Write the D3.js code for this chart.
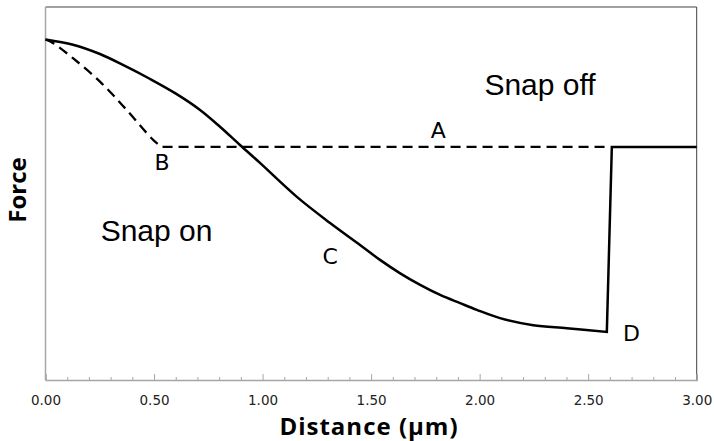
<!DOCTYPE html>
<html>
<head>
<meta charset="utf-8">
<script src="https://cdn.jsdelivr.net/npm/d3@7"></script>
<style>
  html, body { margin: 0; padding: 0; background: #fff; }
  svg { display: block; }
</style>
</head>
<body>
<div id="chart"></div>
<script>
// Force–distance curve: approach (solid) and retract (dashed)
const xTicks = [0, 0.5, 1.0, 1.5, 2.0, 2.5, 3.0];
const minorTicks = [0.1, 0.2, 0.3, 0.4, 0.6, 0.7, 0.8, 0.9, 1.1, 1.2, 1.3, 1.4, 1.6, 1.7, 1.8, 1.9,
                    2.1, 2.2, 2.3, 2.4, 2.6, 2.7, 2.8, 2.9];

// solid curve (smooth part)
const solidDist  = [0, 0.127, 0.251, 0.366, 0.482, 0.597, 0.712, 0.804, 0.896, 0.988, 1.158, 1.311,
                    1.449, 1.541, 1.634, 1.726, 1.818, 1.910, 1.987, 2.094, 2.247, 2.402, 2.586];
const solidForce = [0.913, 0.899, 0.874, 0.842, 0.807, 0.769, 0.724, 0.679, 0.630, 0.582, 0.491, 0.421,
                    0.362, 0.322, 0.286, 0.255, 0.228, 0.206, 0.188, 0.166, 0.147, 0.139, 0.129];
// solid jump back up at D and flat tail
const jumpDist  = [2.586, 2.609, 3.0];
const jumpForce = [0.129, 0.625, 0.625];

// dashed curve (smooth part) and plateau
const dashDist  = [0, 0.036, 0.128, 0.251, 0.374, 0.497, 0.535];
const dashForce = [0.913, 0.903, 0.862, 0.800, 0.724, 0.643, 0.625];
const plateauDist  = [0.535, 2.6];
const plateauForce = [0.625, 0.625];

// annotations (data coordinates)
const letterText  = ['A', 'B', 'C', 'D'];
const letterDist  = [1.809, 0.537, 1.311, 2.700];
const letterForce = [0.649, 0.563, 0.311, 0.105];
const regionText  = ['Snap off', 'Snap on'];
const regionDist  = [2.022, 0.254];
const regionForce = [0.764, 0.373];

const width = 714, height = 441;
const margin = { top: 7, right: 17.3, bottom: 61, left: 45.5 };

const x = d3.scaleLinear().domain([0, 3]).range([margin.left, width - margin.right]);
const y = d3.scaleLinear().domain([0, 1]).range([height - margin.bottom, margin.top]);

const svg = d3.select('#chart').append('svg')
  .attr('width', width)
  .attr('height', height);

const zip = (xs, ys) => xs.map((d, i) => [d, ys[i]]);

// frame: dark top/right, grey axes left/bottom
svg.append('line')
  .attr('x1', x(0)).attr('x2', x(3)).attr('y1', y(1)).attr('y2', y(1))
  .attr('stroke', '#404040').attr('stroke-width', 1);
svg.append('line')
  .attr('x1', x(3)).attr('x2', x(3)).attr('y1', y(1)).attr('y2', y(0))
  .attr('stroke', '#404040').attr('stroke-width', 1);
svg.append('line')
  .attr('x1', x(0)).attr('x2', x(0)).attr('y1', y(1)).attr('y2', y(0))
  .attr('stroke', '#a6a6a6').attr('stroke-width', 1.5);

// minor ticks
svg.append('g')
  .attr('transform', `translate(0,${y(0)})`)
  .call(d3.axisBottom(x).tickValues(minorTicks).tickSize(-3).tickFormat(''))
  .call(g => g.select('.domain').remove())
  .call(g => g.selectAll('.tick line').attr('stroke', '#a6a6a6'));

// major ticks + labels
svg.append('g')
  .attr('transform', `translate(0,${y(0)})`)
  .call(d3.axisBottom(x).tickValues(xTicks).tickSize(-6).tickPadding(15).tickFormat(d3.format('.2f')))
  .call(g => g.select('.domain').attr('stroke', '#a6a6a6').attr('stroke-width', 1.5))
  .call(g => g.selectAll('.tick line').attr('stroke', '#a6a6a6'))
  .call(g => g.selectAll('.tick text')
    .style('font-family', 'DejaVu Sans, sans-serif')
    .style('font-size', '13.5px')
    .attr('fill', '#222'));

// axis titles
svg.append('text')
  .attr('x', 369)
  .attr('y', 435)
  .attr('text-anchor', 'middle')
  .style('font-family', 'Open Sans, sans-serif')
  .style('font-weight', 'bold')
  .style('font-size', '24px')
  .style('letter-spacing', '1px')
  .text('Distance (\u00b5m)');

svg.append('text')
  .attr('transform', 'translate(26,190) rotate(-90)')
  .attr('text-anchor', 'middle')
  .style('font-family', 'Open Sans, sans-serif')
  .style('font-weight', 'bold')
  .style('font-size', '24px')
  .text('Force');

// lines
const smooth = d3.line().x(d => x(d[0])).y(d => y(d[1])).curve(d3.curveCatmullRom.alpha(0.5));
const straight = d3.line().x(d => x(d[0])).y(d => y(d[1]));

svg.append('path')
  .attr('d', smooth(zip(dashDist, dashForce)) + straight(zip(plateauDist, plateauForce)).replace('M', 'L'))
  .attr('fill', 'none')
  .attr('stroke', '#000')
  .attr('stroke-width', 2.3)
  .attr('stroke-dasharray', '10,6');

svg.append('path')
  .attr('d', smooth(zip(solidDist, solidForce)) + straight(zip(jumpDist, jumpForce)).replace('M', 'L'))
  .attr('fill', 'none')
  .attr('stroke', '#000')
  .attr('stroke-width', 2.5)
  .attr('stroke-linejoin', 'miter');

// annotations
svg.selectAll('.letter')
  .data(letterText)
  .join('text')
  .attr('class', 'letter')
  .attr('x', (d, i) => x(letterDist[i]))
  .attr('y', (d, i) => y(letterForce[i]))
  .attr('text-anchor', 'middle')
  .style('font-family', 'DejaVu Sans, sans-serif')
  .style('font-size', '22px')
  .text(d => d);

svg.selectAll('.region')
  .data(regionText)
  .join('text')
  .attr('class', 'region')
  .attr('x', (d, i) => x(regionDist[i]))
  .attr('y', (d, i) => y(regionForce[i]))
  .style('font-family', 'Liberation Sans, Arial, sans-serif')
  .style('font-size', '30px')
  .text(d => d);
</script>
</body>
</html>
